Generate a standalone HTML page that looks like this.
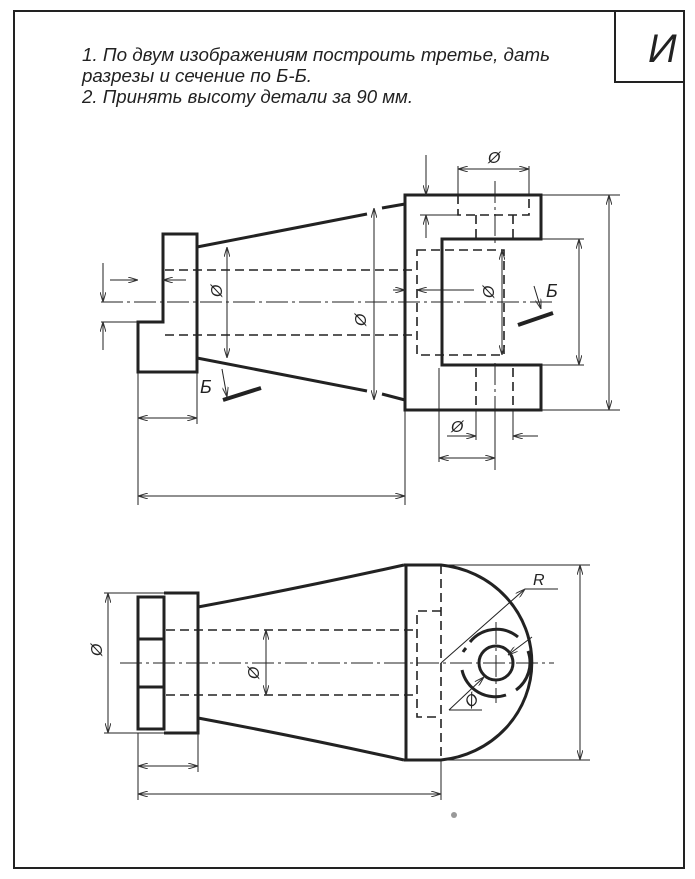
<!DOCTYPE html>
<html><head><meta charset="utf-8"><style>
html,body{margin:0;padding:0;background:#fff;}
svg{display:block;}
text{font-family:"Liberation Sans","DejaVu Sans",sans-serif;font-style:italic;fill:#222;}
</style></head><body>
<svg width="695" height="879" viewBox="0 0 695 879" xmlns="http://www.w3.org/2000/svg">
<defs>
<marker id="a" viewBox="0 0 10 6" refX="10" refY="3" markerWidth="10" markerHeight="6" orient="auto-start-reverse" markerUnits="userSpaceOnUse"><path d="M0,0 L10,3 L0,6" fill="none" stroke="#333" stroke-width="1"/></marker>
</defs>
<rect width="695" height="879" fill="#fff"/>
<rect x="14" y="11" width="670" height="857" fill="none" stroke="#222" stroke-width="2"/>
<rect x="615" y="11" width="69" height="71" fill="none" stroke="#222" stroke-width="2"/>
<text x="648" y="62" font-size="40" fill="#222">И</text>
<text x="82" y="61" font-size="18" textLength="468" lengthAdjust="spacingAndGlyphs">1. По двум изображениям построить третье, дать</text>
<text x="82" y="82" font-size="18" textLength="230" lengthAdjust="spacingAndGlyphs">разрезы и сечение по Б-Б.</text>
<text x="82" y="103" font-size="18" textLength="331" lengthAdjust="spacingAndGlyphs">2. Принять высоту детали за 90 мм.</text>

<g fill="none" stroke="#222">
<path d="M163,234 H197 V372 H138 V322 H163 Z" stroke-width="3"/>
<path d="M197,247 L367,214 M382,208 L405,204 M197,358 L367,391 M382,394 L405,400" stroke-width="3"/>
<path d="M405,195 H541 V239 H442 V365 H541 V410 H405 Z" stroke-width="3"/>
<g stroke-width="1.6" stroke-dasharray="9,5">
<path d="M165,270 H417 M165,335 H417"/>
<path d="M417,250 H504 V355 H417 Z"/>
<path d="M458,195 V215 H529 V195 M476,215 V239 M513,215 V239"/>
<path d="M476,368 V410 M513,368 V410"/>
</g>
<g stroke-width="1" stroke-dasharray="22,4,3,4">
<path d="M101,302 H554"/>
<path d="M495,181 V246 M495,363 V470"/>
</g>
<g stroke-width="1">
<path d="M458,166 V195 M529,166 V195"/>
<path d="M458,169 H529" marker-start="url(#a)" marker-end="url(#a)"/>
<path d="M426,155 V195" marker-end="url(#a)"/>
<path d="M426,238 V215" marker-end="url(#a)"/>
<path d="M420,215 H458"/>
<path d="M541,195 H620 M541,410 H620"/>
<path d="M609,195 V410" marker-start="url(#a)" marker-end="url(#a)"/>
<path d="M541,239 H584 M541,365 H584"/>
<path d="M579,239 V365" marker-start="url(#a)" marker-end="url(#a)"/>
<path d="M502,250 V355" marker-start="url(#a)" marker-end="url(#a)"/>
<path d="M374,208 V400" marker-start="url(#a)" marker-end="url(#a)"/>
<path d="M227,247 V358" marker-start="url(#a)" marker-end="url(#a)"/>
<path d="M110,280 H138" marker-end="url(#a)"/>
<path d="M186,280 H163" marker-end="url(#a)"/>
<path d="M393,290 H405" marker-end="url(#a)"/>
<path d="M474,290 H417" marker-end="url(#a)"/>
<path d="M103,263 V302" marker-end="url(#a)"/>
<path d="M103,350 V322" marker-end="url(#a)"/>
<path d="M101,322 H138"/>
<path d="M138,372 V505 M197,372 V424 M405,410 V505"/>
<path d="M138,418 H197" marker-start="url(#a)" marker-end="url(#a)"/>
<path d="M138,496 H405" marker-start="url(#a)" marker-end="url(#a)"/>
<path d="M447,436 H476" marker-end="url(#a)"/>
<path d="M538,436 H513" marker-end="url(#a)"/>
<path d="M476,410 V440 M513,410 V440"/>
<path d="M439,368 V462 M495,410 V462"/>
<path d="M439,458 H495" marker-start="url(#a)" marker-end="url(#a)"/>
<path d="M534,286 L541,309" marker-end="url(#a)"/>
<path d="M222,369 L227,397" marker-end="url(#a)"/>
</g>
<path d="M518,325 L553,313 M223,400 L261,388" stroke-width="4"/>

<path d="M138,597 H164 V729 H138 Z M138,639 H164 M138,687 H164" stroke-width="3"/>
<path d="M164,593 H198 V733 H164" stroke-width="3"/>
<path d="M198,607 Q300,588 404,565 M198,718 Q300,737 404,760" stroke-width="3"/>
<path d="M406,565 V760 M404,565 H441 A101,98 0 0 1 441,760 H404" stroke-width="3"/>
<g stroke-width="1.6" stroke-dasharray="9,5">
<path d="M441,565 V760"/>
<path d="M441,611 H417 V717 H441"/>
<path d="M166,630 H417 M166,695 H417"/>
</g>
<circle cx="496" cy="663" r="17" stroke-width="3"/>
<path d="M470,642 A34,34 0 0 1 518,637 M528,651 A34,34 0 0 1 516,690 M506,695 A34,34 0 0 1 462,670 M463,652 A34,34 0 0 1 466,648" stroke-width="3"/>
<g stroke-width="1" stroke-dasharray="22,4,3,4">
<path d="M120,663 H554"/>
<path d="M496,622 V703"/>
</g>
<g stroke-width="1">
<path d="M441,663 L525,589" marker-end="url(#a)"/>
<path d="M525,589 H558"/>
<path d="M532,637 L508,655" marker-end="url(#a)"/>
<path d="M449,710 L484,677" marker-end="url(#a)"/>
<path d="M449,710 H482"/>
<path d="M104,593 H164 M104,733 H164"/>
<path d="M108,593 V733" marker-start="url(#a)" marker-end="url(#a)"/>
<path d="M266,630 V695" marker-start="url(#a)" marker-end="url(#a)"/>
<path d="M441,565 H590 M441,760 H590"/>
<path d="M580,565 V760" marker-start="url(#a)" marker-end="url(#a)"/>
<path d="M138,733 V800 M198,733 V772 M441,760 V800"/>
<path d="M138,766 H198" marker-start="url(#a)" marker-end="url(#a)"/>
<path d="M138,794 H441" marker-start="url(#a)" marker-end="url(#a)"/>
</g>
</g>
<g font-size="16">
<text x="488" y="163">Ø</text>
<text x="483" y="297" transform="rotate(-90 489 292)">Ø</text>
<text x="355" y="325" transform="rotate(-90 361 320)">Ø</text>
<text x="211" y="296" transform="rotate(-90 217 291)">Ø</text>
<text x="451" y="432">Ø</text>
<text x="546" y="297" font-size="18">Б</text>
<text x="200" y="393" font-size="18">Б</text>
<text x="91" y="655" transform="rotate(-90 97 650)">Ø</text>
<text x="248" y="678" transform="rotate(-90 254 673)">Ø</text>
<text x="533" y="585" font-size="16">R</text>
<text x="465" y="706" transform="rotate(-45 471 700)">Ø</text>
</g>
<circle cx="454" cy="815" r="3" fill="#999"/>
</svg>
</body></html>
